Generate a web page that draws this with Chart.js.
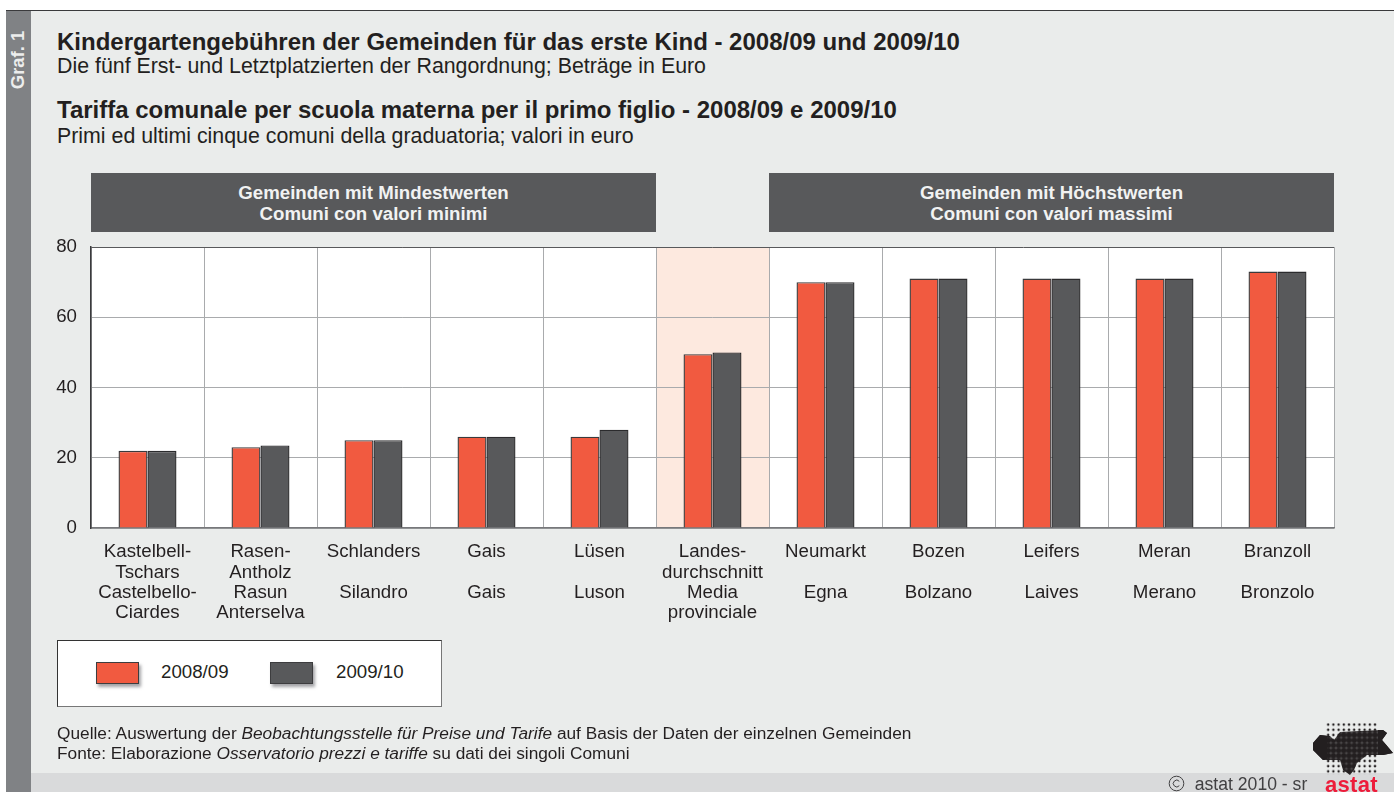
<!DOCTYPE html>
<html lang="de"><head><meta charset="utf-8">
<script src="https://cdn.jsdelivr.net/npm/chart.js@4"></script>
<style>
html,body{margin:0;padding:0;background:#fff;width:1394px;height:792px;overflow:hidden;font-family:"Liberation Sans",Arial,sans-serif;color:#231f20}
.a{position:absolute;white-space:nowrap}
#panel{left:6px;top:10px;width:1388px;height:782px;background:#eaeceb;border-top:1.5px solid #3a3a3c;box-sizing:border-box}
#side{left:6px;top:11px;width:25px;height:781px;background:#808285}
#graf{left:-22px;top:48px;width:80px;height:24px;line-height:24px;text-align:center;font-weight:bold;font-size:18.4px;transform:rotate(-90deg);color:#eceded}
#foot{left:31px;top:773px;width:1363px;height:19px;background:#d9dadb}
.t{font-weight:bold;font-size:24px;left:57px;line-height:24px}
.s{font-size:21.35px;left:57px;line-height:22px}
.band{top:173px;height:59px;width:565px;background:#58595b;color:#f1f2f2;font-weight:bold;font-size:18.65px;line-height:21px;text-align:center;box-sizing:border-box;padding-top:9px}
#chart{position:absolute;left:0;top:0}
#legend{left:57px;top:640px;width:385px;height:67px;background:#fff;border:1px solid #333;border-right-color:#777;border-bottom-color:#777;box-sizing:border-box}
.sw{position:absolute;top:21px;width:43px;height:22px;box-sizing:border-box;border:1.5px solid #3d3d3f;box-shadow:2px 3px 3px rgba(90,90,95,.55)}
.lt{position:absolute;top:20px;font-size:18.7px;line-height:22px}
.src{left:57px;font-size:17.3px;line-height:20px}
#logo{left:1310px;top:722px;width:84px;height:70px}
#copy{left:1168px;top:774px;font-size:17.6px;line-height:20px;color:#414042}
#astat{left:1325px;top:775px;font-size:22px;line-height:20px;font-weight:bold;color:#ed1c3a;letter-spacing:.3px}
</style></head>
<body>
<div class="a" id="panel"></div><div class="a" id="side"></div><div class="a" id="graf">Graf. 1</div><div class="a" id="foot"></div>
<div class="a t" style="top:30px">Kindergartengebühren der Gemeinden für das erste Kind - 2008/09 und 2009/10</div>
<div class="a s" style="top:55px">Die fünf Erst- und Letztplatzierten der Rangordnung; Beträge in Euro</div>
<div class="a t" style="top:98px">Tariffa comunale per scuola materna per il primo figlio - 2008/09 e 2009/10</div>
<div class="a s" style="top:125px">Primi ed ultimi cinque comuni della graduatoria; valori in euro</div>
<div class="a band" style="left:91px">Gemeinden mit Mindestwerten<br>Comuni con valori minimi</div>
<div class="a band" style="left:769px">Gemeinden mit Höchstwerten<br>Comuni con valori massimi</div>
<canvas id="chart" width="1394" height="792"></canvas>
<div class="a" id="legend">
 <div class="sw" style="left:38px;background:#f15a40"></div><div class="lt" id="l1" style="left:103px"></div>
 <div class="sw" style="left:212px;background:#58595b"></div><div class="lt" id="l2" style="left:278px"></div>
</div>
<div class="a src" style="top:723px">Quelle: Auswertung der <i>Beobachtungsstelle für Preise und Tarife</i> auf Basis der Daten der einzelnen Gemeinden</div>
<div class="a src" style="top:743px">Fonte: Elaborazione <i>Osservatorio prezzi e tariffe</i> su dati dei singoli Comuni</div>
<svg class="a" id="logo" viewBox="0 0 84 70">
 <defs><pattern id="d" width="5.2" height="5.2" patternUnits="userSpaceOnUse"><circle cx="2.6" cy="2.6" r="1.25" fill="#231f20"/></pattern>
 <pattern id="e" width="5.2" height="5.2" patternUnits="userSpaceOnUse"><rect width="5.2" height="5.2" fill="#231f20" opacity=".8"/><circle cx="2.6" cy="2.6" r="2.6" fill="#231f20"/></pattern></defs>
 <rect x="16" y="1" width="52" height="52" fill="url(#d)"/>
 <path d="M3 21 L10 13 L20 14 L24 18 L30 10 L50 9 L73 8 L77 11 L72 18 L78 25 L83 31 L73 33 L57 33 L47 41 L44 48 L40 53 L33 48 L30 38 L13 38 L3 28Z" fill="url(#e)"/>
 <path d="M3 21 L10 13 L17 14 L17 37 L13 38 L3 28Z" fill="#231f20"/>
 <path d="M68 8 L73 8 L77 11 L72 18 L78 25 L83 31 L73 33 L68 33Z" fill="#231f20"/>
</svg>
<div class="a" id="copy"><svg width="17" height="17" viewBox="0 0 17 17" style="vertical-align:-2px"><circle cx="8.5" cy="8.5" r="7.3" fill="none" stroke="#414042" stroke-width="1"/><path d="M11.3 6.3a3.4 3.4 0 1 0 0 4.4" fill="none" stroke="#414042" stroke-width="1"/></svg>&nbsp; astat 2010 - sr</div>
<div class="a" id="astat">astat</div>
<script>
const categories = [
  ["Kastelbell-","Tschars","Castelbello-","Ciardes"],
  ["Rasen-","Antholz","Rasun","Anterselva"],
  ["Schlanders"," ","Silandro"],
  ["Gais"," ","Gais"],
  ["Lüsen"," ","Luson"],
  ["Landes-","durchschnitt","Media","provinciale"],
  ["Neumarkt"," ","Egna"],
  ["Bozen"," ","Bolzano"],
  ["Leifers"," ","Laives"],
  ["Meran"," ","Merano"],
  ["Branzoll"," ","Bronzolo"]
];
const seriesNames = ["2008/09","2009/10"];
const values0809 = [22,23,25,26,26,49.5,70,71,71,71,73];
const values0910 = [22,23.5,25,26,28,50,70,71,71,71,73];
const yTicks = [0,20,40,60,80];
const highlightIndex = 5;

document.getElementById('l1').textContent = seriesNames[0];
document.getElementById('l2').textContent = seriesNames[1];

const band = {
  id:'band',
  beforeDraw(c){
    const {ctx,chartArea:a,scales:{x}} = c;
    const w = x.getPixelForValue(1)-x.getPixelForValue(0);
    const cx = x.getPixelForValue(highlightIndex);
    ctx.save();
    ctx.fillStyle='#fff'; ctx.fillRect(a.left,a.top,a.right-a.left,a.bottom-a.top);
    ctx.fillStyle='#fde9df'; ctx.fillRect(cx-w/2,a.top,w,a.bottom-a.top);
    ctx.restore();
  }
};
const font = {family:'"Liberation Sans",Arial,sans-serif',size:18.7,lineHeight:1.086};
new Chart(document.getElementById('chart'),{
  type:'bar',
  data:{labels:categories,datasets:[
    {label:seriesNames[0],data:values0809,backgroundColor:'#f15a40',borderColor:'#3a3a3c',borderWidth:1.4,barPercentage:1,categoryPercentage:.513},
    {label:seriesNames[1],data:values0910,backgroundColor:'#58595b',borderColor:'#2b2b2d',borderWidth:1.4,barPercentage:1,categoryPercentage:.513}
  ]},
  options:{
    responsive:false,animation:false,
    layout:{padding:{left:0,right:60,top:247,bottom:0}},
    plugins:{legend:{display:false},title:{display:false},tooltip:{enabled:false}},
    scales:{
      x:{
        grid:{color:'#a9abad',lineWidth:1,drawTicks:false,offset:true},
        border:{display:true,color:'#77787b',width:1.5},
        ticks:{color:'#231f20',font,padding:14,maxRotation:0,autoSkip:false},
        afterFit(s){s.height=264;}
      },
      y:{
        min:0,max:80,
        afterBuildTicks(s){s.ticks=yTicks.map(v=>({value:v}));},
        grid:{color:c=>c.tick&&c.tick.value===80?'#58595b':'#a9abad',lineWidth:1,drawTicks:false},
        border:{display:true,color:'#3a3a3c',width:1.5},
        ticks:{color:'#231f20',font,padding:14},
        afterFit(s){s.width=91;}
      }
    }
  },
  plugins:[band]
});
</script>
</body></html>
